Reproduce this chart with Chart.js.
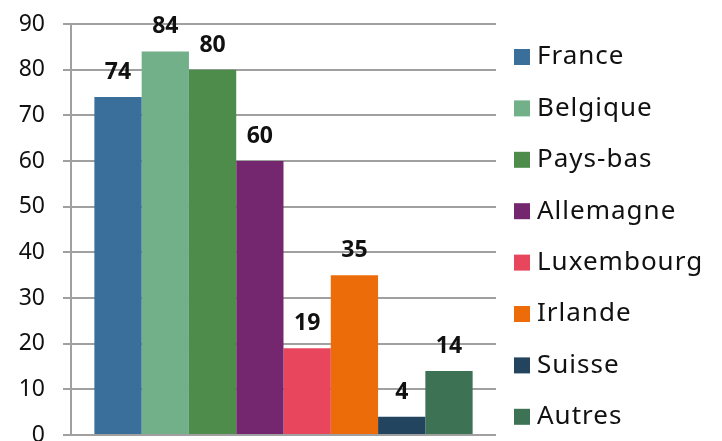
<!DOCTYPE html>
<html>
<head>
<meta charset="utf-8">
<script src="https://cdn.jsdelivr.net/npm/chart.js@4.4.1/dist/chart.umd.min.js"></script>
<style>
  html, body { margin: 0; padding: 0; background: #fff; overflow: hidden; }
  #wrap { width: 722px; height: 441px; }
</style>
</head>
<body>
<div id="wrap"><canvas id="paysChart" width="722" height="441"></canvas></div>
<script>
//--------------------- Données ---------------------
const pays = ['France', 'Belgique', 'Pays-bas', 'Allemagne', 'Luxembourg', 'Irlande', 'Suisse', 'Autres'];
const valeurs = [74, 84, 80, 60, 19, 35, 4, 14];
const couleurs = ['#3A6E9B', '#72B08A', '#4E8C4B', '#74276F', '#E8465D', '#EC6C0A', '#22445F', '#3E7254'];
const ticksY = [0, 10, 20, 30, 40, 50, 60, 70, 80, 90];

const police = "'Noto Sans', sans-serif";

//--------------------- Étiquettes au-dessus des barres ---------------------
const etiquettes = {
    id: 'etiquettes',
    afterDatasetsDraw(chart) {
        const ctx = chart.ctx;
        ctx.save();
        ctx.font = "bold 23px " + police;
        ctx.fillStyle = '#111';
        ctx.textAlign = 'center';
        ctx.textBaseline = 'alphabetic';
        chart.data.datasets.forEach((ds, i) => {
            const bar = chart.getDatasetMeta(i).data[0];
            ctx.fillText(ds.data[0], bar.x, bar.y - 18);
        });
        ctx.restore();
    }
};

//--------------------- Légende à droite ---------------------
const legende = {
    id: 'legende',
    afterDraw(chart) {
        const ctx = chart.ctx;
        ctx.save();
        ctx.font = "26px " + police;
        ctx.letterSpacing = '1px';
        ctx.textBaseline = 'middle';
        ctx.textAlign = 'left';
        chart.data.datasets.forEach((ds, i) => {
            const y = 57 + i * 51.4;
            ctx.fillStyle = ds.backgroundColor;
            ctx.fillRect(514, y - 8, 16, 16);
            ctx.fillStyle = '#111';
            ctx.fillText(ds.label, 537, y);
        });
        ctx.restore();
    }
};

const ctx = document.getElementById('paysChart').getContext('2d');
const graphique = new Chart(ctx, {
    type: 'bar',
    data: {
        labels: [''],
        datasets: pays.map((p, i) => ({
            label: p,
            data: [valeurs[i]],
            backgroundColor: couleurs[i],
            borderWidth: 0
        }))
    },
    options: {
        responsive: false,
        animation: false,
        categoryPercentage: 0.89,
        barPercentage: 1,
        layout: { padding: { top: 24, right: 226, bottom: 6, left: 0 } },
        plugins: {
            legend: { display: false },
            tooltip: { enabled: false }
        },
        scales: {
            x: { display: false },
            y: {
                min: 0,
                max: 90,
                afterFit(scale) {
                    scale.width = 71;
                    scale.paddingTop = 0;
                    scale.paddingBottom = 0;
                },
                afterBuildTicks(scale) { scale.ticks = ticksY.map(v => ({ value: v })); },
                border: { display: true, color: '#a0a0a0', width: 2 },
                grid: { color: '#a0a0a0', lineWidth: 2, tickLength: 8, drawTicks: true },
                ticks: {
                    padding: 18,
                    color: '#111',
                    font: { family: police, size: 23 }
                }
            }
        }
    },
    plugins: [etiquettes, legende]
});
</script>
</body>
</html>
